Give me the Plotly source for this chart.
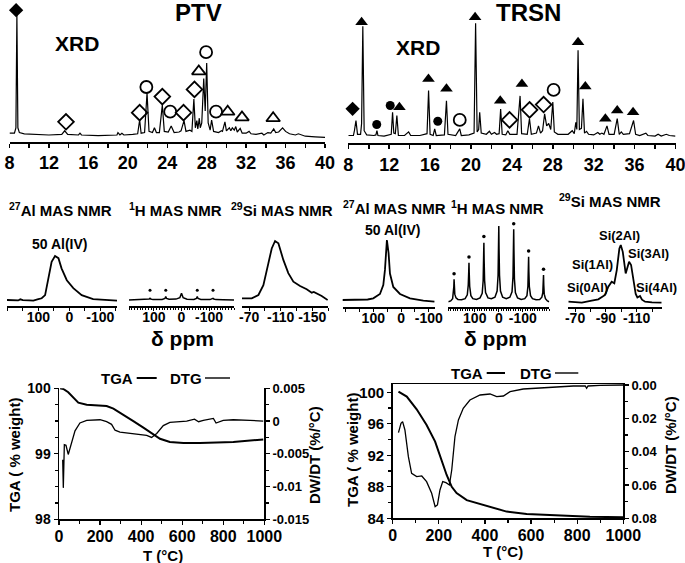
import plotly.graph_objects as go

W, H = 685, 563
FONT = "Liberation Sans, Arial, sans-serif"

# ---------------- XRD data (2theta in degrees, intensity a.u.) ----------------
ptv_2theta = [8.0, 8.5, 8.65, 8.75, 8.85, 9.0, 9.5, 10.5, 12.0, 13.3, 13.6, 13.9, 15.0, 15.15, 15.3,
              17.0, 18.9, 19.0, 19.2, 19.4, 19.6, 20.5, 21.0, 21.2, 21.35, 21.7, 21.95, 22.15, 22.5,
              22.7, 22.9, 23.2, 23.5, 23.7, 24.1, 24.4, 24.7, 25.2, 25.4, 25.7, 25.9, 26.3, 26.5,
              26.7, 26.85, 27.0, 27.1, 27.25, 27.35, 27.5, 27.7, 27.85, 28.0, 28.15, 28.35, 28.5,
              28.7, 29.2, 29.5, 29.6, 29.85, 30.0, 30.3, 30.45, 30.6, 30.8, 30.95, 31.1, 31.4, 31.6,
              32.0, 32.3, 32.5, 33.0, 33.6, 33.8, 34.2, 34.5, 34.8, 35.0, 35.3, 35.7, 36.0, 36.4,
              37.0, 37.3, 38.0, 39.0, 40.0]
ptv_int = [1.5, 1.5, 6, 100, 6, 2, 1, 0.5, 0, 0.5, 3.5, 0.5, 0, 1.5, 0,
           -0.5, 0, 2, 0, 1.5, 0, 0.5, 1, 12.5, 1.5, 2, 35, 3, 2,
           6, 2, 2, 25, 3, 2.5, 7.5, 2, 2.5, 3.5, 12, 3, 4, 3,
           30, 6, 12, 5, 14, 6, 10, 47, 20, 60, 10, 4, 12.5,
           3, 2, 3.5, 3, 11, 3.5, 6, 3.5, 6, 4, 7, 2.5, 5.5, 1.5,
           1.5, 3, 1, 0.5, 1.5, 0, 2, 1.5, 5, 2, 2.5, 6, 3, 1,
           0, 1, -1, -1.5, -2]

trsn_2theta = [8.0, 8.5, 8.6, 8.75, 8.9, 9.2, 9.3, 9.42, 9.55, 9.8, 10.5, 10.7, 10.8, 10.9, 11.5,
               12.2, 12.33, 12.45, 12.6, 12.75, 12.9, 13.5, 13.9, 14.1, 15.0, 15.7, 15.85, 16.0,
               16.3, 16.45, 16.6, 17.4, 17.6, 17.75, 18.5, 18.9, 19.05, 19.8, 20.3, 20.45, 20.6,
               20.75, 20.85, 21.0, 21.5, 21.8, 22.0, 22.3, 22.5, 22.75, 22.9, 23.05, 23.4, 23.6,
               23.8, 24.5, 24.8, 24.95, 25.5, 25.72, 25.9, 26.4, 26.6, 26.8, 27.0, 27.2, 27.4,
               27.6, 27.8, 28.0, 28.15, 28.5, 29.5, 29.9, 30.1, 30.25, 30.35, 30.47, 30.6, 30.8,
               30.95, 31.1, 31.3, 31.5, 32.0, 32.4, 32.6, 32.8, 33.0, 33.3, 33.5, 34.0, 34.3, 34.5,
               34.7, 34.9, 35.5, 35.9, 36.1, 36.5, 37.1, 37.3, 38.0, 38.3, 38.6, 39.1, 39.4, 40.0]
trsn_int = [0, 0, 4, 12.5, 1, 1, 10, 91, 4, 0.5, 0, 0.5, 4, 0, -0.5,
            1, 19.4, 2, 1.5, 16.7, 0, 0, 3, 0, 0, 1.5, 37.5, 1,
            0, 5.5, 0, 0.5, 29, 1, 0, 5.5, 0, 0.5, 2, 93.6, 3,
            5, 19.4, 2, 1, 3.5, 1, 2.5, 1, 1.5, 22, 1, 0.5, 4,
            1, 1, 33, 1.5, 1, 14, 1, 2, 8, 2, 4, 18, 8,
            10, 5, 27.8, 3, 1, 1, 4, 1.5, 11, 5, 71, 5, 6,
            30.6, 2, 3.5, 1, 0.5, 2.5, 1, 2, 1, 8, 1, 1, 14, 1,
            3, 1, 1.5, 12.5, 1, 0, 2, 0, -0.5, 1, -0.5, 1, 0, -0.5]

# phase markers (2theta, intensity)
ptv_fdiamond_x, ptv_fdiamond_y = [8.67], [104]
ptv_odiamond_x = [13.73, 21.2, 23.5, 25.65, 26.76]
ptv_odiamond_y = [11, 18.6, 32, 18.6, 38]
ptv_ocircle_x = [21.88, 24.3, 27.94, 28.95]
ptv_ocircle_y = [40, 19.4, 69, 19.4]
ptv_otri_x = [27.2, 30.13, 31.58, 34.74]
ptv_otri_y = [53, 19.4, 14.7, 14]

trsn_fdiamond_x, trsn_fdiamond_y = [8.42], [22.2]
trsn_ftri_x = [9.3, 13.0, 15.84, 17.6, 20.4, 22.86, 24.98, 30.47, 31.18, 33.14, 34.3, 35.85]
trsn_ftri_y = [94.4, 23.6, 47, 38.9, 98.6, 29, 43, 77.8, 40.8, 13.9, 20.8, 19.4]
trsn_fcircle_x = [10.78, 12.1, 16.75]
trsn_fcircle_y = [9.2, 25, 11.9]
trsn_ocircle_x = [18.9, 28.08]
trsn_ocircle_y = [13, 38]
trsn_odiamond_x = [23.77, 25.73, 27.1]
trsn_odiamond_y = [13, 21.4, 25.8]

xrd_ticks = [8, 12, 16, 20, 24, 28, 32, 36, 40]

# ---------------- NMR data (ppm, intensity a.u.) ----------------
ptv_al_ppm = [201, 175, 165, 158, 150, 130, 116, 100, 89, 78, 68, 57, 46, 35, 25, 8, -13, -40, -77, -120, -154]
ptv_al_int = [0, 0.5, -1, 1.5, -0.5, -1, -1.5, 2, 3.9, 11, 45, 87, 100, 95, 72, 45, 27, 11, 2, 0, -1.6]

ptv_h_ppm = [190, 150, 125, 117, 114, 111, 103, 70, 60, 57, 54, 45, 20, 6, 2, 0, -2, -6, -20, -45,
             -54, -57, -60, -70, -103, -111, -114, -117, -125, -150, -190]
ptv_h_int = [0, 0.3, 0.5, 1.2, 2.2, 1.2, 0.5, 0.8, 2, 4.4, 2, 1, 1.2, 3, 7, 8.8, 7, 3, 1, 0.8,
             2, 4.4, 2, 0.8, 0.5, 1.2, 2.2, 1.2, 0.5, 0.3, 0]
ptv_h_ssb_ppm = [114, 57, -57, -114]
ptv_h_ssb_int = [13, 13, 13, 13]

ptv_si_ppm = [-60.8, -73.4, -81.8, -88.1, -94.4, -98.7, -102.9, -107.1, -113.4, -119.7, -126.1,
              -134.6, -143, -149.4, -152, -155.7, -162, -169.6]
ptv_si_int = [0, 0, 5.8, 23, 61, 87, 100, 96, 67, 44, 29, 21.5, 15.7, 9.8, 11, 8.7, 4, -3]

trsn_al_ppm = [213, 180, 147, 120, 100, 76, 64, 58, 51, 45, 40, 28, 4, -32, -80, -120]
trsn_al_int = [1.6, 1.6, 1.6, 2.5, 4.4, 11.5, 26, 51, 100, 78.7, 45, 23, 11.5, 4.4, 0.5, -1]

trsn_h_ppm = [210, 200, 192, 189, 187, 186, 185, 183, 178, 170, 155, 140, 131, 127, 125, 124, 123,
              121, 116, 108, 93, 78, 69, 65, 63, 62, 61, 59, 55, 45, 31, 16, 7, 3, 1, 0, -1, -3,
              -7, -16, -31, -46, -55, -59, -61, -62, -63, -65, -69, -78, -93, -108, -117, -121,
              -123, -124, -125, -127, -132, -140, -155, -170, -179, -183, -185, -186, -187,
              -189, -194, -202, -210]
trsn_h_int = [0, 1, 4, 10, 20, 29.6, 20, 10, 5, 3, 2.5, 4, 9, 22, 40, 51.5, 38,
              20, 8, 4, 3, 5, 11, 28, 55, 78, 55, 28, 12, 5, 4, 6, 14, 35, 70, 100, 70, 35,
              14, 6, 4, 6, 13, 33, 68, 95.6, 68, 30, 12, 5, 3, 4, 8, 20,
              40, 59.4, 40, 20, 8, 4, 2.5, 3, 6, 12, 22, 35.3, 22,
              10, 4, 1, 0]
trsn_h_ssb_ppm = [186, 124, 62, -62, -124, -186]
trsn_h_ssb_int = [37, 59, 86, 103, 67, 43]

trsn_si_ppm = [-65.6, -74.4, -80.8, -85.1, -89.5, -91.6, -93.8, -95.5, -97.1, -98.8, -99.7, -101,
               -102.9, -105.1, -106.4, -107.9, -109.4, -110.5, -112.2, -113.5, -115.5, -120, -126.3]
trsn_si_int = [0.5, -1.2, 2.3, 4.7, 12.3, 26.8, 35.6, 32.8, 56, 94, 100, 88,
               50, 70.7, 65, 35.6, 14, 8, 10.5, 4, 0.5, -0.5, -1.2]

# ---------------- TGA / DTG data ----------------
ptv_tga_T = [5, 21, 45, 70, 94, 135, 200, 232, 265, 313, 362, 411, 451, 492, 540, 606, 687, 849, 995]
ptv_tga_w = [100, 99.99, 99.94, 99.85, 99.78, 99.75, 99.74, 99.73, 99.69, 99.6, 99.5, 99.4, 99.31,
             99.23, 99.18, 99.165, 99.165, 99.18, 99.22]
ptv_dtg_T = [18, 21, 26, 34, 45, 62, 78, 102, 135, 200, 232, 256, 273, 297, 362, 427, 451, 476,
             508, 540, 622, 660, 680, 703, 752, 765, 800, 849, 930, 995]
ptv_dtg_v = [-0.0059, -0.0102, -0.0036, -0.0037, -0.0051, -0.0033, -0.0015, -0.0003, 0.0001,
             0.0002, -0.0001, -0.0005, -0.0014, -0.0017, -0.0019, -0.0022, -0.0025, -0.0019,
             -0.0007, -0.0002, 0.0, 0.0003, -0.0001, 0.0001, 0.0004, -0.0003, 0.0001, 0.0002,
             0.0001, 0.0]

trsn_tga_T = [25, 61, 104, 147, 184, 212, 234, 256, 277, 321, 379, 436, 494, 581, 711, 855, 1000]
trsn_tga_w = [100.08, 99.45, 97.84, 95.85, 93.73, 91.4, 89.5, 88.0, 87.2, 86.3, 85.8, 85.27, 84.85,
              84.55, 84.34, 84.2, 84.13]
trsn_dtg_T = [25, 36, 43, 53, 68, 82, 104, 126, 147, 169, 184, 194, 205, 217, 231, 246, 256, 270,
              285, 306, 335, 379, 422, 451, 480, 509, 566, 668, 783, 835, 841, 847, 899, 1000]
trsn_dtg_v = [0.0286, 0.023, 0.022, 0.027, 0.043, 0.053, 0.055, 0.0546, 0.058, 0.065, 0.073,
              0.072, 0.063, 0.058, 0.0586, 0.06, 0.051, 0.031, 0.021, 0.014, 0.009, 0.006, 0.0054,
              0.007, 0.0066, 0.004, 0.0024, 0.0014, 0.0006, 0.0006, 0.002, 0.0006, 0.0002, 0.0]

ptv_w_ticks = [98, 99, 100]
ptv_dtg_tickvals = [0.005, 0, -0.005, -0.01, -0.015]
ptv_dtg_ticktext = ["0.005", "0", "-0.005", "-0.01", "-0.015"]
trsn_w_ticks = [84, 88, 92, 96, 100]
trsn_dtg_ticks = [0.0, 0.02, 0.04, 0.06, 0.08]
T_ticks = [0, 200, 400, 600, 800, 1000]


# ---------------- helpers ----------------
def dx(p):
    return p / W


def dy(p):
    return 1 - p / H


def bold(size):
    return dict(family=FONT, size=size, color="black", weight="bold")


fig = go.Figure()
layout = dict(
    template="none",
    width=W, height=H, margin=dict(l=0, r=0, t=0, b=0, pad=0),
    paper_bgcolor="white", plot_bgcolor="rgba(0,0,0,0)", showlegend=False,
    font=dict(family=FONT, color="black"),
)


def ax_name(kind, i):
    return kind + ("axis" if i == 1 else "axis%d" % i)


def ref(kind, i):
    return kind + ("" if i == 1 else str(i))


# ---- XRD panels ----
def xrd_panel(i, x0, x1, ybot, base):
    k = 1.2
    layout[ax_name("x", i)] = dict(
        domain=[dx(x0), dx(x1)], range=[8, 40], anchor=ref("y", i), automargin=False,
        showline=True, linewidth=2, linecolor="black", ticks="outside", ticklen=4, tickwidth=1.5,
        tickcolor="black", tickvals=xrd_ticks, tickfont=bold(18), ticklabelstandoff=0,
        ticklabeloverflow="allow",
        minor=dict(tickmode="linear", tick0=8, dtick=2, ticks="outside", ticklen=4, tickwidth=1.5,
                   tickcolor="black", showgrid=False),
        showgrid=False, zeroline=False, fixedrange=True)
    layout[ax_name("y", i)] = dict(
        domain=[dy(ybot), 1], range=[-(ybot - base) / k, base / k], anchor=ref("x", i),
        visible=False, fixedrange=True, automargin=False)


xrd_panel(1, 9.5, 325, 141.7, 135)
xrd_panel(2, 348.3, 675.5, 143.3, 135.5)

fig.add_trace(go.Scatter(x=ptv_2theta, y=ptv_int, mode="lines", line=dict(color="black", width=1.2),
                         xaxis="x", yaxis="y", cliponaxis=False))
fig.add_trace(go.Scatter(x=trsn_2theta, y=trsn_int, mode="lines", line=dict(color="black", width=1.2),
                         xaxis="x2", yaxis="y2", cliponaxis=False))


def markers(x, y, symbol, size, xa, ya, lw=1.8):
    fig.add_trace(go.Scatter(x=x, y=y, mode="markers", xaxis=xa, yaxis=ya, cliponaxis=False,
                             marker=dict(symbol=symbol, size=size, color="black",
                                         line=dict(color="black", width=lw))))


markers(ptv_fdiamond_x, ptv_fdiamond_y, "diamond", 11, "x", "y", 0)
markers(ptv_odiamond_x, ptv_odiamond_y, "diamond-open", 12, "x", "y")
markers(ptv_ocircle_x, ptv_ocircle_y, "circle-open", 12, "x", "y")
markers(ptv_otri_x, ptv_otri_y, "triangle-up-open", 12, "x", "y")
markers(trsn_fdiamond_x, trsn_fdiamond_y, "diamond", 11, "x2", "y2", 0)
markers(trsn_ftri_x, trsn_ftri_y, "triangle-up", 11, "x2", "y2", 0)
markers(trsn_fcircle_x, trsn_fcircle_y, "circle", 9, "x2", "y2", 0)
markers(trsn_ocircle_x, trsn_ocircle_y, "circle-open", 12, "x2", "y2")
markers(trsn_odiamond_x, trsn_odiamond_y, "diamond-open", 12, "x2", "y2")

# ---- NMR panels ----
NMR_TOP = 215


def nmr_panel(i, x0, x1, xr, ybot, base, k, tickvals, ticktext, minor_dtick, minor_len=3, tick0=0):
    layout[ax_name("x", i)] = dict(
        domain=[dx(x0), dx(x1)], range=xr, anchor=ref("y", i), automargin=False,
        showline=True, linewidth=1.5, linecolor="black", ticks="outside", ticklen=3, tickwidth=1,
        tickcolor="black", tickvals=tickvals, ticktext=ticktext, tickfont=bold(14),
        ticklabelstandoff=-5, ticklabeloverflow="allow",
        minor=dict(tickmode="linear", tick0=tick0, dtick=minor_dtick, ticks="outside", ticklen=minor_len,
                   tickwidth=1, tickcolor="black", showgrid=False),
        showgrid=False, zeroline=False, fixedrange=True)
    layout[ax_name("y", i)] = dict(
        domain=[dy(ybot), dy(NMR_TOP)], range=[-(ybot - base) / k, (base - NMR_TOP) / k],
        anchor=ref("x", i), visible=False, fixedrange=True, automargin=False)


nmr_panel(3, 7, 117, [201, -154], 306, 300, 0.44, [100, 0, -100], ["100", "0", "-100"], 50)
nmr_panel(4, 129, 234, [190, -190], 306, 300, 0.757, [100, 0, -100], ["100", "0", "-100"], 10, 2)
nmr_panel(5, 242, 328, [-61, -170], 306, 298.3, 0.573, [-70, -110, -150], ["-70", "-110", "-150"], 20, 3, -70)
nmr_panel(6, 342.7, 435, [210, -122], 307, 301, 0.61, [100, 0, -100], ["100", "0", "-100"], 50)
nmr_panel(7, 448.3, 549.3, [210, -210], 307, 301.7, 0.757, [100, 0, -100], ["100", "0", "-100"], 10, 2)
nmr_panel(8, 568.3, 661.7, [-65.6, -126.3], 307, 302, 0.57, [-70, -90, -110], ["-70", "-90", "-110"], 10)


def line(x, y, i, w=1.8):
    fig.add_trace(go.Scatter(x=x, y=y, mode="lines", line=dict(color="black", width=w),
                             xaxis=ref("x", i), yaxis=ref("y", i), cliponaxis=False))


line(ptv_al_ppm, ptv_al_int, 3)
line(ptv_h_ppm, ptv_h_int, 4, 1.5)
line(ptv_si_ppm, ptv_si_int, 5)
line(trsn_al_ppm, trsn_al_int, 6)
line(trsn_h_ppm, trsn_h_int, 7, 1.5)
line(trsn_si_ppm, trsn_si_int, 8)
markers(ptv_h_ssb_ppm, ptv_h_ssb_int, "circle", 3, "x4", "y4", 0)
markers(trsn_h_ssb_ppm, trsn_h_ssb_int, "circle", 3.5, "x7", "y7", 0)

# ---- TGA panels ----
tick_common = dict(showline=True, linewidth=1.5, linecolor="black", ticks="outside", ticklen=4,
                   tickwidth=1.2, tickcolor="black", showgrid=False, zeroline=False, fixedrange=True,
                   automargin=False, ticklabeloverflow="allow")

layout["xaxis9"] = dict(domain=[dx(59), dx(264.3)], range=[0, 1000], anchor="y9",
                        tickvals=T_ticks, tickfont=bold(16), ticklabelstandoff=-2,
                        minor=dict(tickmode="linear", tick0=0, dtick=100, ticks="outside", ticklen=3,
                                   tickcolor="black", showgrid=False), **tick_common)
layout["yaxis9"] = dict(domain=[dy(519.3), dy(388.3)], range=[98, 100], anchor="x9",
                        tickvals=ptv_w_ticks, tickfont=bold(14),
                        minor=dict(tickmode="linear", tick0=98, dtick=0.25, ticks="outside", ticklen=3,
                                   tickcolor="black", showgrid=False), **tick_common)
layout["yaxis10"] = dict(domain=[dy(519.3), dy(388.3)], range=[-0.015, 0.005], anchor="x9",
                         overlaying="y9", side="right",
                         tickvals=ptv_dtg_tickvals, ticktext=ptv_dtg_ticktext, tickfont=bold(13),
                         minor=dict(tickmode="linear", tick0=0, dtick=0.0025, ticks="outside", ticklen=3,
                                    tickcolor="black", showgrid=False), **tick_common)

layout["xaxis10"] = dict(domain=[dx(392.7), dx(623.3)], range=[0, 1000], anchor="y11", mirror=True,
                         tickvals=T_ticks, tickfont=bold(16), ticklabelstandoff=-2,
                         minor=dict(tickmode="linear", tick0=0, dtick=100, ticks="outside", ticklen=3,
                                    tickcolor="black", showgrid=False), **tick_common)
layout["yaxis11"] = dict(domain=[dy(518.3), dy(384)], range=[84, 101.05], anchor="x10",
                         tickvals=trsn_w_ticks, tickfont=bold(15),
                         minor=dict(tickmode="linear", tick0=84, dtick=2, ticks="outside", ticklen=3,
                                    tickcolor="black", showgrid=False), **tick_common)
layout["yaxis12"] = dict(domain=[dy(518.3), dy(384)], range=[0.08, -0.0006], anchor="x10",
                         overlaying="y11", side="right",
                         tickvals=trsn_dtg_ticks, tickformat=".2f", tickfont=bold(13),
                         minor=dict(tickmode="linear", tick0=0, dtick=0.01, ticks="outside", ticklen=3,
                                    tickcolor="black", showgrid=False), **tick_common)

fig.add_trace(go.Scatter(x=ptv_tga_T, y=ptv_tga_w, mode="lines", line=dict(color="black", width=2),
                         xaxis="x9", yaxis="y9"))
fig.add_trace(go.Scatter(x=ptv_dtg_T, y=ptv_dtg_v, mode="lines", line=dict(color="black", width=1.3),
                         xaxis="x9", yaxis="y10"))
fig.add_trace(go.Scatter(x=trsn_tga_T, y=trsn_tga_w, mode="lines", line=dict(color="black", width=2),
                         xaxis="x10", yaxis="y11"))
fig.add_trace(go.Scatter(x=trsn_dtg_T, y=trsn_dtg_v, mode="lines", line=dict(color="black", width=1.3),
                         xaxis="x10", yaxis="y12"))

# ---------------- text ----------------
ann = []


def text(t, x, y, size, xanchor="center", yanchor="middle", angle=0):
    ann.append(dict(text=t, x=dx(x), y=dy(y), xref="paper", yref="paper", showarrow=False,
                    xanchor=xanchor, yanchor=yanchor, textangle=angle, font=bold(size)))


text("PTV", 198, 13, 24)
text("TRSN", 528, 12, 24)
text("XRD", 77, 43, 21)
text("XRD", 417.5, 47, 21)

text("<sup>27</sup>Al MAS NMR", 7, 209, 15, "left")
text("<sup>1</sup>H MAS NMR", 127, 209, 15, "left")
text("<sup>29</sup>Si MAS NMR", 229, 209, 15, "left")
text("<sup>27</sup>Al MAS NMR", 341, 207, 15, "left")
text("<sup>1</sup>H MAS NMR", 449, 207, 15, "left")
text("<sup>29</sup>Si MAS NMR", 557, 201, 15, "left")
text("50 Al(IV)", 59.5, 243.5, 14)
text("50 Al(IV)", 392.5, 230, 14)
text("δ ppm", 183, 338, 21)
text("δ ppm", 495, 338, 21)

text("Si(2Al)", 619, 235, 13)
text("Si(3Al)", 648, 253, 13)
text("Si(1Al)", 592, 265, 13)
text("Si(0Al)", 587, 287, 13)
text("Si(4Al)", 656, 287, 13)

text("TGA ( % weight)", 15, 455, 15, angle=-90)
text("DW/DT (%/°C)", 315, 455, 15, angle=-90)
text("T (°C)", 163, 555, 15)
text("TGA ( % weight)", 352, 450, 15, angle=-90)
text("DW/DT (%/°C)", 670, 445, 15, angle=-90)
text("T (°C)", 503, 551, 15)

text("TGA", 116.7, 378, 15)
text("DTG", 185.8, 378, 15)
text("TGA", 466.7, 373, 15)
text("DTG", 535.8, 373, 15)

layout["annotations"] = ann
shapes = []
for (x0, x1, y, w) in [(136.7, 156.7, 378, 2), (205, 230, 378, 1.4),
                       (486.7, 505, 373, 2), (555, 578.3, 373, 1.4)]:
    shapes.append(dict(type="line", xref="paper", yref="paper", x0=dx(x0), x1=dx(x1), y0=dy(y), y1=dy(y),
                       line=dict(color="black", width=w)))
layout["shapes"] = shapes

fig.update_layout(**layout)
fig.write_html("out.html", config={"displayModeBar": False, "staticPlot": True},
               post_script="document.body.style.margin='0';document.body.style.overflow='hidden';")
